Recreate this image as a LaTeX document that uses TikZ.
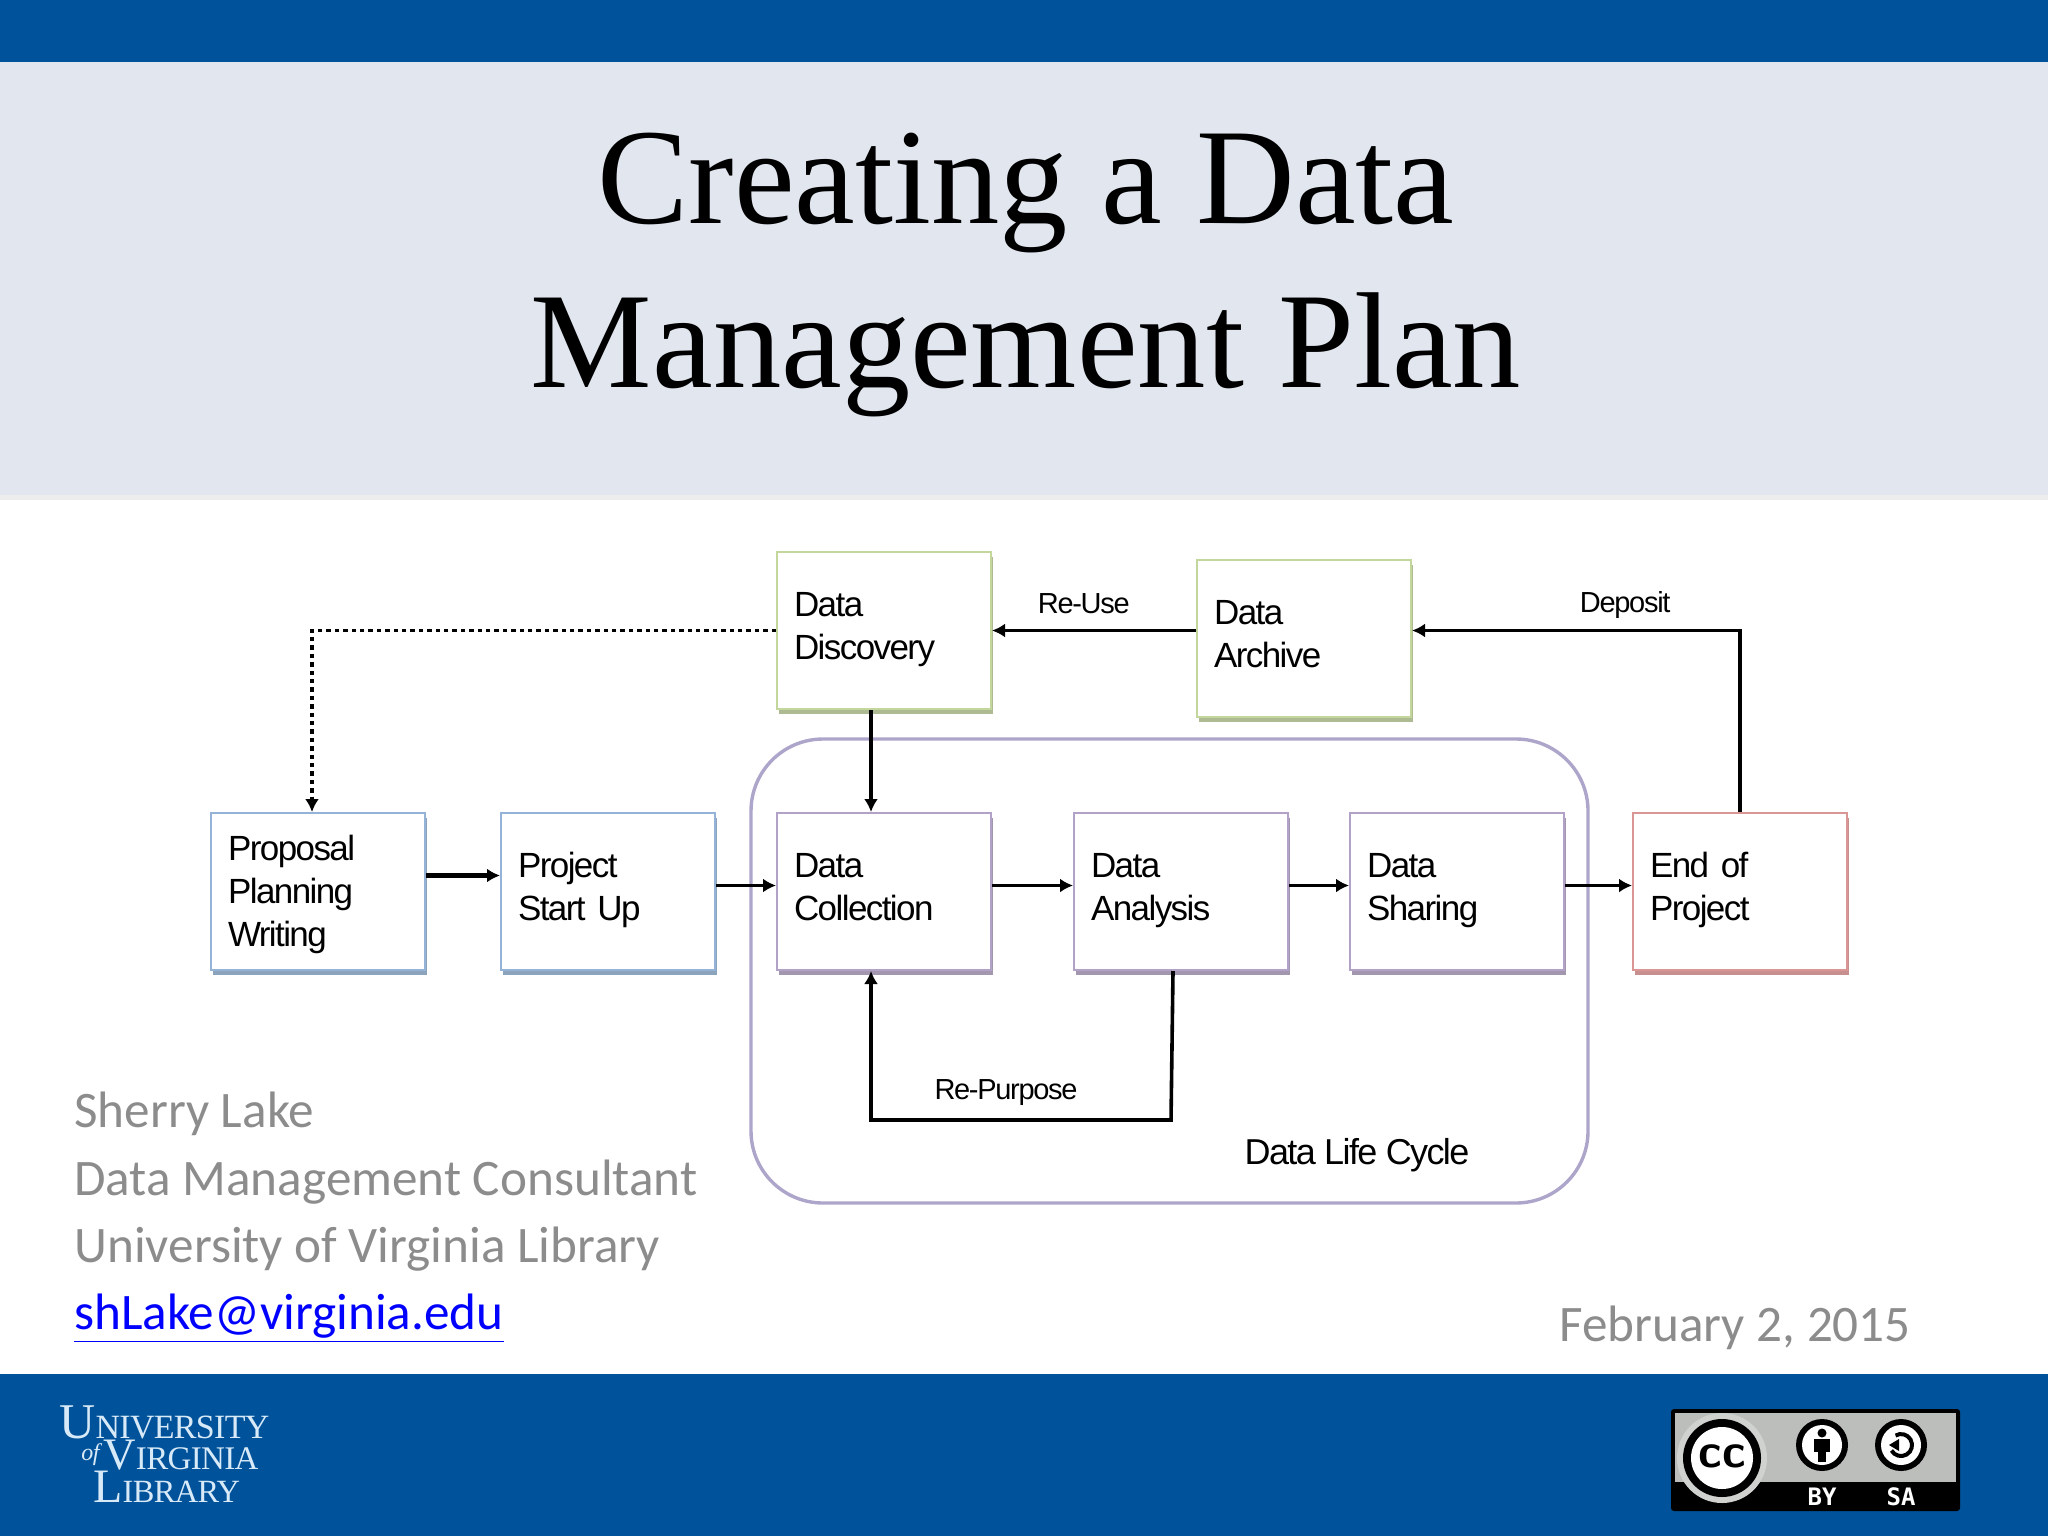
\documentclass[tikz,border=0pt]{standalone}
\usepackage{fontspec}
\setmainfont{Carlito}
\newfontfamily\titlefont{Liberation Serif}
\newfontfamily\boxfont[LetterSpace=-4.5]{Liberation Sans}
\newfontfamily\logofont[LetterSpace=-2]{Liberation Serif}
\newfontfamily\badgefont{DejaVu Sans Mono}
\usepackage{tikz}
\usetikzlibrary{arrows.meta,positioning,shadows}
\definecolor{uvablue}{HTML}{00529B}
\definecolor{paleband}{HTML}{E1E6EF}
\definecolor{bandshade}{HTML}{EDEDED}
\definecolor{bluebox}{HTML}{95B3D7}
\definecolor{blueshade}{HTML}{8CA3BC}
\definecolor{greenbox}{HTML}{C3D69B}
\definecolor{greenshade}{HTML}{AEBB92}
\definecolor{purplebox}{HTML}{B3A2C7}
\definecolor{purpleshade}{HTML}{A297AE}
\definecolor{redbox}{HTML}{D99694}
\definecolor{redshade}{HTML}{C78F8E}
\definecolor{cycleline}{HTML}{ADA5CA}
\definecolor{footgray}{HTML}{8C8C8C}
\definecolor{logotext}{HTML}{D8EAF8}
\definecolor{badgegray}{HTML}{BCBEBB}

\begin{document}
\begin{tikzpicture}[
    x=0.5pt,y=-0.5pt,
    node distance=30pt,
    stage/.style={draw=#1box,fill=white,line width=1pt,minimum height=78.5pt,
                  text width=90pt,inner xsep=8.5pt,inner ysep=0pt,align=left,
                  font=\boxfont\fontsize{17.5}{21.5}\selectfont,
                  drop shadow={shadow xshift=1pt,shadow yshift=-2.4pt,opacity=1,fill=#1shade}},
    lift/.style={execute at begin node={\rule{0pt}{13pt}},execute at end node={\rule[-5.5pt]{0pt}{5.5pt}}},
    sink/.style={execute at begin node={\rule{0pt}{16pt}}},
    edgelabel/.style={font=\boxfont\fontsize{14.5}{17}\selectfont,inner sep=2pt},
    arr/.style={-{Latex[length=6.5pt,width=7pt]},line width=1.8pt},
    dotarr/.style={-{Latex[length=6.5pt,width=7pt]},line width=1.8pt,dash pattern=on 2.2pt off 2pt}
]
\useasboundingbox (0,0) rectangle (2048,1536);
% bands
\fill[uvablue] (0,0) rectangle (2048,62);
\fill[paleband] (0,62) rectangle (2048,495);
\fill[bandshade] (0,495) rectangle (2048,500);
\fill[uvablue] (0,1374) rectangle (2048,1536);
\node[font=\titlefont\fontsize{68.3}{82}\selectfont,align=center,text=black] (title) at (1026,275)
    {Creating a Data\\Management Plan};
% life cycle frame
\draw[cycleline,line width=1.7pt,rounded corners=36pt] (751,739) rectangle (1588,1203);
% stages
\node[stage=blue,anchor=north west,sink] (proposal) at (210,812) {Proposal\\Planning\\Writing};
\node[stage=blue,lift,right=37pt of proposal] (startup) {Project\\Start Up};
\node[stage=purple,lift,right=30pt of startup] (collection) {Data\\Collection};
\node[stage=purple,lift,right=40.5pt of collection] (analysis) {Data\\Analysis};
\node[stage=purple,lift,right=30pt of analysis] (sharing) {Data\\Sharing};
\node[stage=red,lift,right=33.5pt of sharing] (endproject) {End of\\Project};
\node[stage=green,lift,above=51pt of collection] (discovery) {Data\\Discovery};
\node[stage=green,lift,anchor=north west] (archive) at (1196,559) {Data\\Archive};
% connectors
\coordinate (loopin) at ([xshift=-6.5pt]collection.south);
\draw[arr,line width=2.1pt] ([yshift=8pt]proposal.east) -- ([yshift=8pt]proposal.east -| startup.west);
\draw[arr] ([yshift=3pt]startup.east) -- ([yshift=3pt]collection.west);
\draw[arr] ([yshift=3pt]collection.east) -- ([yshift=3pt]analysis.west);
\draw[arr] ([yshift=3pt]analysis.east) -- ([yshift=3pt]sharing.west);
\draw[arr] ([yshift=3pt]sharing.east) -- ([yshift=3pt]endproject.west);
\draw[arr] ([xshift=-6.5pt]discovery.south) -- ([xshift=-6.5pt]collection.north);
\draw[arr] (archive.west |- discovery.east) -- node[edgelabel,above,pos=.55,yshift=5.5pt] (reuse) {Re-Use} (discovery.east);
\draw[arr] (endproject.north) |- node[edgelabel,above,pos=.675,yshift=3pt] (deposit) {Deposit} (archive.east |- discovery.east);
\draw[dotarr] (discovery.west) -| ([xshift=-3pt]proposal.north);
\draw[arr] ([xshift=-4pt]analysis.south) -- ++(-2,149) coordinate (turn)
    -- node[edgelabel,above,pos=.55,yshift=4.5pt] (repurpose) {Re-Purpose} (turn -| loopin)
    -- (loopin);
\node[font=\boxfont\fontsize{18}{21}\selectfont] (lifecycle) at (1357,1155) {Data Life Cycle};
% presenter
\node[anchor=north west,inner sep=0pt,align=left,text=footgray,font=\fontsize{25.6}{33.6}\selectfont] (presenter) at (74,1092)
    {Sherry Lake\\Data Management Consultant\\University of Virginia Library\\
     \textcolor{blue}{\underline{shLake@virginia.edu}}};
\node[anchor=west,inner sep=0pt,text=footgray,font=\fontsize{25.6}{30}\selectfont] (talkdate) at (1559,1328) {February 2, 2015};
% logo
\node[anchor=base west,inner sep=0pt,text=logotext,font=\logofont\fontsize{17}{17}\selectfont] (logoa) at (59,1438)
    {{\fontsize{25}{25}\selectfont U}NIVERSITY};
\node[anchor=base west,inner sep=0pt,text=logotext,font=\logofont\fontsize{16.5}{17}\selectfont] (logob) at (103,1469)
    {{\fontsize{22.5}{23}\selectfont V}IRGINIA};
\node[anchor=base west,inner sep=0pt,text=logotext,font=\logofont\fontsize{16.2}{17}\selectfont] (logoc) at (93,1502)
    {{\fontsize{24}{25}\selectfont L}IBRARY};
\node[anchor=base west,inner sep=0pt,text=logotext,font=\logofont\itshape\fontsize{12}{12}\selectfont] (logoof) at (81,1460) {of};
% licence badge
\fill[black,rounded corners=1.5pt] (1671,1409) rectangle (1960,1511);
\fill[badgegray] (1675,1413) rectangle (1956,1482);
\fill[badgegray!70!white] (1722,1458) circle (45);
\fill[black] (1722,1458) circle (39);
\fill[white] (1722,1458) circle (31);
\node[font=\bfseries\sffamily\fontsize{24}{24}\selectfont,inner sep=0pt] (ccmark) at (1722,1456) {cc};
\foreach \cx in {1822,1901} {
  \fill[black] (\cx,1445) circle (26);
  \fill[white] (\cx,1445) circle (20);
}
\fill[black] (1822,1433) circle (4.5);
\fill[black] (1814,1439) rectangle (1830,1452);
\fill[black] (1818,1452) rectangle (1826,1462);
\draw[black,line width=2pt] (1895.5,1435.5) arc[start angle=120,end angle=-150,radius=5.5pt];
\fill[black] (1889,1445) -- (1899,1439) -- (1899,1451) -- cycle;
\node[text=white,font=\badgefont\bfseries\fontsize{12}{12}\selectfont,inner sep=0pt] (bymark) at (1822,1497) {BY};
\node[text=white,font=\badgefont\bfseries\fontsize{12}{12}\selectfont,inner sep=0pt] (samark) at (1901,1497) {SA};
\end{tikzpicture}
\end{document}
